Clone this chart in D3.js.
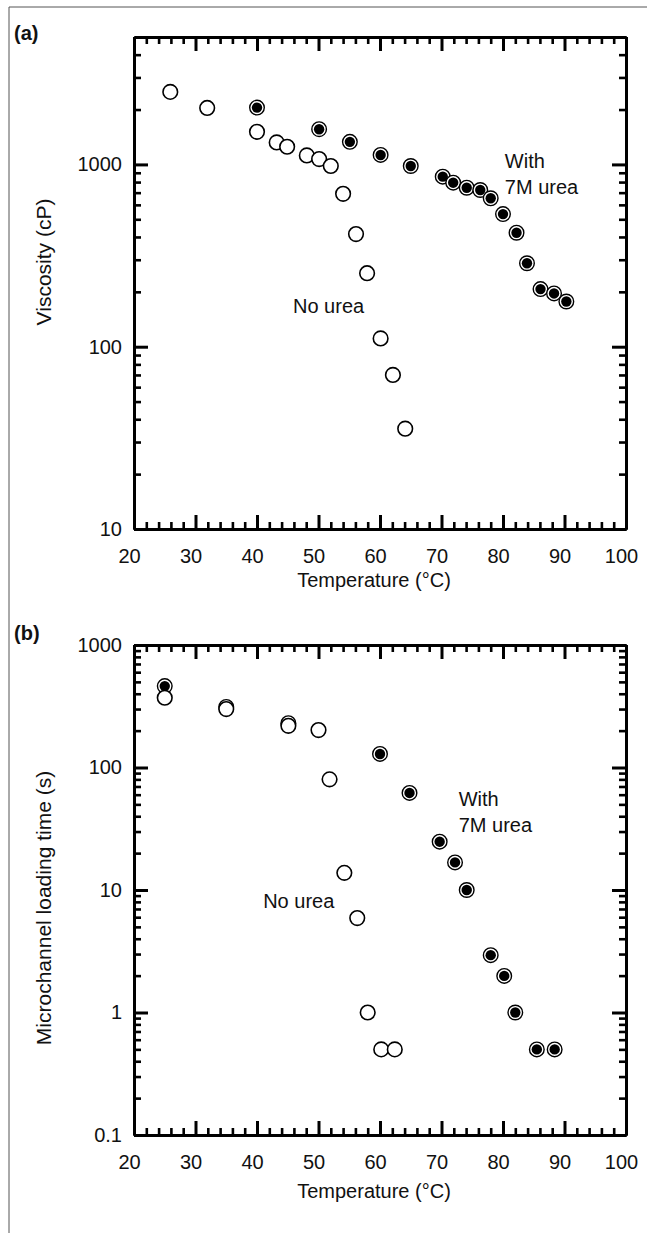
<!DOCTYPE html>
<html>
<head>
<meta charset="utf-8">
<script src="https://cdn.jsdelivr.net/npm/d3@7"></script>
<style>
body { margin:0; background:#fff; }
svg text { font-family: 'Liberation Sans', Arial, Helvetica, sans-serif; fill:#111; }
</style>
</head>
<body>
<svg id="drawing_region"></svg>
<script>
// x ticks (temperature, degC)
const temp_ticks = [20, 30, 40, 50, 60, 70, 80, 90, 100];

// (a) viscosity (cP)
const visc_ticks = [10, 100, 1000];
const visc_nourea_temp = [25.9, 31.9, 40, 43.2, 44.9, 48.1, 50.1, 52, 54, 56.1, 57.9, 60.1, 62.1, 64.1];
const visc_nourea_cp   = [2500, 2040, 1510, 1320, 1250, 1120, 1070, 980, 690, 415, 253, 111, 70, 35.5];
const visc_urea_temp = [40, 50.1, 55.1, 60.1, 65, 70.2, 71.9, 74.1, 76.3, 78, 80, 82.2, 83.9, 86.1, 88.3, 90.3];
const visc_urea_cp   = [2050, 1560, 1330, 1127, 980, 857, 794, 745, 724, 652, 534, 422, 287, 207, 196, 177];

// (b) microchannel loading time (s)
const load_ticks = [0.1, 1, 10, 100, 1000];
const load_nourea_temp = [25, 35, 45.1, 50, 51.8, 54.2, 56.3, 58, 60.2, 62.4];
const load_nourea_s    = [371, 300, 219, 202, 80, 13.8, 5.9, 1.0, 0.5, 0.5];
const load_urea_temp = [25, 35, 45.1, 60, 64.8, 69.7, 72.2, 74.1, 78, 80.2, 82, 85.5, 88.4];
const load_urea_s    = [462, 312, 230, 129, 62, 24.8, 16.8, 10, 2.94, 1.99, 1.0, 0.5, 0.5];

const W = 647, H = 1233;

const svg = d3.select('#drawing_region')
    .attr('width', W)
    .attr('height', H);

// outer border (left + top)
svg.append('path')
    .attr('d', `M9,${H} L9,7 L${W},7`)
    .attr('fill', 'none')
    .attr('stroke', '#555')
    .attr('stroke-width', 1);

class LogPanel {
    constructor( config, open_pts, filled_pts ) {
        this.config = config;
        this.open_pts = open_pts;
        this.filled_pts = filled_pts;
        this.init();
    }
    init() {
        let self = this;
        let c = self.config;

        self.chart = svg.append('g');

        self.xscale = d3.scaleLinear()
            .domain([20, 100])
            .range([c.left, c.right]);

        self.yscale = d3.scaleLog()
            .domain(c.ydomain)
            .range([c.bottom, c.top]);

        // minor tick values
        self.xminor = d3.range(22, 100, 2).filter(d => d % 10 != 0);
        self.yminor = [];
        c.yticks.forEach(d => {
            for (let k = 2; k <= 9; k++) {
                let v = d * k;
                if (v < c.ydomain[1]) self.yminor.push(v);
            }
        });
    }
    render() {
        let self = this;
        let c = self.config;
        const major = 14, minor = 7;

        const draw = (axis, transform, cls) => {
            let g = self.chart.append('g')
                .attr('transform', transform)
                .call(axis);
            g.selectAll('.tick line')
                .attr('stroke', '#000')
                .attr('stroke-width', cls == 'major' ? 3 : 2.6);
            g.select('.domain')
                .attr('stroke', '#000')
                .attr('stroke-width', 3);
            g.selectAll('text')
                .attr('font-size', 20)
                .attr('fill', '#111');
            return g;
        };

        // bottom
        let xb = draw(d3.axisBottom(self.xscale).tickValues(temp_ticks).tickSize(-major).tickSizeOuter(0)
            .tickPadding(16).tickFormat(d3.format('d')), `translate(0,${c.bottom})`, 'major');
        xb.selectAll('text').attr('dx', -5).attr('dy', '0.9em');
        draw(d3.axisBottom(self.xscale).tickValues(self.xminor).tickSize(-minor).tickSizeOuter(0)
            .tickFormat(''), `translate(0,${c.bottom})`, 'minor');
        // top
        draw(d3.axisTop(self.xscale).tickValues(temp_ticks).tickSize(-major).tickSizeOuter(0)
            .tickFormat(''), `translate(0,${c.top})`, 'major');
        draw(d3.axisTop(self.xscale).tickValues(self.xminor).tickSize(-minor).tickSizeOuter(0)
            .tickFormat(''), `translate(0,${c.top})`, 'minor');
        // left
        draw(d3.axisLeft(self.yscale).tickValues(c.yticks).tickSize(-major).tickSizeOuter(0)
            .tickPadding(12).tickFormat(d => d3.format('~g')(d)), `translate(${c.left},0)`, 'major');
        draw(d3.axisLeft(self.yscale).tickValues(self.yminor).tickSize(-minor).tickSizeOuter(0)
            .tickFormat(''), `translate(${c.left},0)`, 'minor');
        // right
        draw(d3.axisRight(self.yscale).tickValues(c.yticks).tickSize(-major).tickSizeOuter(0)
            .tickFormat(''), `translate(${c.right},0)`, 'major');
        draw(d3.axisRight(self.yscale).tickValues(self.yminor).tickSize(-minor).tickSizeOuter(0)
            .tickFormat(''), `translate(${c.right},0)`, 'minor');

        // axis titles
        self.chart.append('text')
            .attr('x', (c.left + c.right) / 2 - 6)
            .attr('y', c.bottom + c.xtitle_dy)
            .attr('text-anchor', 'middle')
            .attr('font-size', 20)
            .text('Temperature (°C)');

        self.chart.append('text')
            .attr('transform', `translate(44,${c.ytitle_y}) rotate(-90)`)
            .attr('text-anchor', 'middle')
            .attr('dy', '0.35em')
            .attr('font-size', 21)
            .text(c.ylabel);

        self.chart.append('text')
            .attr('x', 14)
            .attr('y', c.top + c.tag_dy)
            .attr('font-size', 20)
            .attr('font-weight', 'bold')
            .text(c.tag);

        // notes
        c.notes.forEach(n => {
            let t = self.chart.append('text')
                .attr('x', self.xscale(n.x))
                .attr('y', self.yscale(n.y))
                .attr('font-size', 20);
            n.lines.forEach((s, i) => {
                t.append('tspan')
                    .attr('x', self.xscale(n.x))
                    .attr('dy', i == 0 ? 0 : 26)
                    .text(s);
            });
        });

        // filled markers (with 7M urea)
        let fg = self.chart.selectAll('.filled')
            .data(self.filled_pts)
            .join('g')
            .attr('class', 'filled')
            .attr('transform', d => `translate(${self.xscale(d.x)},${self.yscale(d.y)})`);
        fg.append('circle')
            .attr('r', 7.3)
            .attr('fill', '#fff')
            .attr('stroke', '#000')
            .attr('stroke-width', 1.4);
        fg.append('circle')
            .attr('r', 5.2)
            .attr('fill', '#000');

        // open markers (no urea)
        self.chart.selectAll('.open')
            .data(self.open_pts)
            .join('circle')
            .attr('class', 'open')
            .attr('cx', d => self.xscale(d.x))
            .attr('cy', d => self.yscale(d.y))
            .attr('r', 7.3)
            .attr('fill', '#fff')
            .attr('stroke', '#000')
            .attr('stroke-width', 1.6);
    }
}

const zip = (xs, ys) => xs.map((x, i) => ({x: x, y: ys[i]}));

const panel_a = new LogPanel({
    top: 37, bottom: 529, left: 134, right: 626,
    ydomain: [10, 5000],
    yticks: visc_ticks,
    ylabel: 'Viscosity (cP)',
    ytitle_y: 262,
    xtitle_dy: 58,
    tag: '(a)',
    tag_dy: 3,
    notes: [
        {x: 80.3, y: 955, lines: ['With', '7M urea']},
        {x: 45.85, y: 153, lines: ['No urea']}
    ]
}, zip(visc_nourea_temp, visc_nourea_cp), zip(visc_urea_temp, visc_urea_cp));
panel_a.render();

const panel_b = new LogPanel({
    top: 645, bottom: 1135, left: 134, right: 626,
    ydomain: [0.1, 1000],
    yticks: load_ticks,
    ylabel: 'Microchannel loading time (s)',
    ytitle_y: 908,
    xtitle_dy: 63,
    tag: '(b)',
    tag_dy: -5,
    notes: [
        {x: 72.8, y: 48.5, lines: ['With', '7M urea']},
        {x: 41, y: 7.1, lines: ['No urea']}
    ]
}, zip(load_nourea_temp, load_nourea_s), zip(load_urea_temp, load_urea_s));
panel_b.render();
</script>
</body>
</html>
